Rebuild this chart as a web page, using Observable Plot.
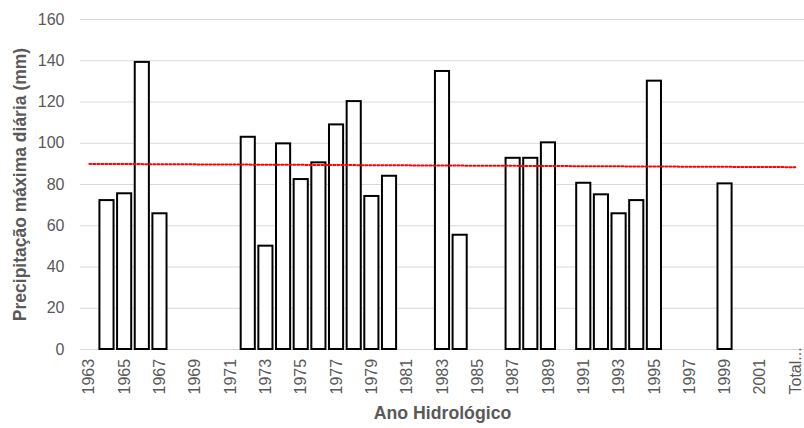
<!DOCTYPE html>
<html>
<head>
<meta charset="utf-8">
<script src="https://cdn.jsdelivr.net/npm/d3@7"></script>
<script src="https://cdn.jsdelivr.net/npm/@observablehq/plot@0.6"></script>
<style>
  html, body { margin: 0; padding: 0; background: #ffffff; }
  #chart { width: 804px; height: 428px; }
</style>
</head>
<body>
<div id="chart"></div>
<script>
// Categories (hydrological years + "Total...")
const categories = [
  "1963","1964","1965","1966","1967","1968","1969","1970","1971","1972",
  "1973","1974","1975","1976","1977","1978","1979","1980","1981","1982",
  "1983","1984","1985","1986","1987","1988","1989","1990","1991","1992",
  "1993","1994","1995","1996","1997","1998","1999","2000","2001","2002",
  "Total..."
];
// Maximum daily precipitation (mm); null = no bar
const values = [
  null, 72.2, 75.5, 139.2, 65.8, null, null, null, null, 102.9,
  50.1, 99.7, 82.4, 90.5, 108.9, 120.2, 74.2, 84.0, null, null,
  134.8, 55.4, null, null, 92.7, 92.7, 100.2, null, 80.6, 75.0,
  65.8, 72.2, 130.1, null, null, null, 80.3, null, null, null,
  null
];
// Linear trend line end points
const trendCategories = ["1963", "Total..."];
const trendValues = [90.0, 88.4];
// Tick labels shown on the x axis
const xTickLabels = [
  "1963","1965","1967","1969","1971","1973","1975","1977","1979","1981",
  "1983","1985","1987","1989","1991","1993","1995","1997","1999","2001",
  "Total..."
];
const yTicks = [0, 20, 40, 60, 80, 100, 120, 140, 160];
const yTitle = "Precipitação máxima diária (mm)";
const xTitle = "Ano Hidrológico";

const bars = categories.map((c, i) => ({cat: c, v: values[i]})).filter(d => d.v != null);
const trend = trendCategories.map((c, i) => ({cat: c, v: trendValues[i]}));

const textColor = "#595959";
const font = "'Liberation Sans', Arial, sans-serif";

const chart = Plot.plot({
  width: 804,
  height: 428,
  marginLeft: 80,
  marginRight: 0,
  marginTop: 19,
  marginBottom: 79,
  style: {fontFamily: font, fontSize: "16px", color: textColor, background: "#ffffff"},
  x: {type: "band", domain: categories, paddingInner: 0.2, paddingOuter: 0.1, round: false, axis: null},
  y: {domain: [0, 160], axis: null},
  marks: [
    Plot.gridY(yTicks, {stroke: "#d9d9d9", strokeOpacity: 1, strokeWidth: 1}),
    Plot.axisY(yTicks, {tickSize: 0, tickPadding: 16, label: null, fill: textColor, fontSize: 16}),
    Plot.barY(bars, {x: "cat", y: "v", fill: "#ffffff", stroke: "#000000", strokeWidth: 2}),
    Plot.line(trend, {x: "cat", y: "v", stroke: "#ff0000", strokeWidth: 2, strokeDasharray: "2,2"}),
    Plot.text(xTickLabels, {
      x: d => d, frameAnchor: "bottom", dy: 45, rotate: -90,
      textAnchor: "start", lineAnchor: "middle", fill: textColor, fontSize: 16
    }),
    Plot.text([xTitle], {
      frameAnchor: "bottom", dy: 64, lineAnchor: "middle", textAnchor: "middle",
      fill: textColor, fontSize: 17.7, fontWeight: "bold"
    }),
    Plot.text([yTitle], {
      frameAnchor: "left", dx: -60, rotate: -90, lineAnchor: "middle", textAnchor: "middle",
      fill: textColor, fontSize: 17.5, fontWeight: "bold"
    })
  ]
});
document.getElementById("chart").appendChild(chart);
</script>
</body>
</html>
